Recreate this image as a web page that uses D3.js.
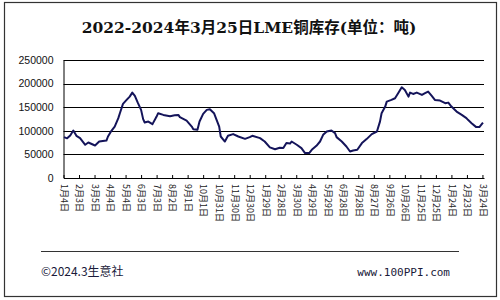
<!DOCTYPE html>
<html>
<head>
<meta charset="utf-8">
<script src="https://cdn.jsdelivr.net/npm/d3@7"></script>
<style>
  body { margin: 0; background: #fff; }
  svg { display: block; }
</style>
</head>
<body>
<svg id="chart"></svg>
<script>
// LME copper stocks, tonnes
const dates = [
  '2022-01-05', '2022-01-11', '2022-01-17', '2022-01-23', '2022-01-29', '2022-02-05', '2022-02-15', '2022-02-21',
  '2022-03-06', '2022-03-14', '2022-03-28', '2022-03-31', '2022-04-07', '2022-04-13', '2022-04-20', '2022-04-23',
  '2022-04-29', '2022-05-06', '2022-05-12', '2022-05-17', '2022-05-22', '2022-05-28', '2022-06-03', '2022-06-07',
  '2022-06-10', '2022-06-17', '2022-06-25', '2022-07-03', '2022-07-06', '2022-07-16', '2022-07-29', '2022-08-07',
  '2022-08-14', '2022-08-17', '2022-08-30', '2022-09-09', '2022-09-12', '2022-09-20', '2022-09-24', '2022-10-01',
  '2022-10-08', '2022-10-14', '2022-10-22', '2022-10-27', '2022-11-01', '2022-11-04', '2022-11-12', '2022-11-18',
  '2022-11-28', '2022-12-08', '2022-12-21', '2022-12-30', '2023-01-04', '2023-01-19', '2023-01-28', '2023-02-07',
  '2023-02-17', '2023-02-26', '2023-03-05', '2023-03-11', '2023-03-18', '2023-03-21', '2023-03-31', '2023-04-09',
  '2023-04-16', '2023-04-24', '2023-04-29', '2023-05-08', '2023-05-15', '2023-05-21', '2023-05-28', '2023-06-06',
  '2023-06-13', '2023-06-16', '2023-06-26', '2023-07-05', '2023-07-12', '2023-07-18', '2023-07-26', '2023-08-04',
  '2023-08-13', '2023-08-23', '2023-09-02', '2023-09-08', '2023-09-11', '2023-09-18', '2023-09-21', '2023-09-30',
  '2023-10-07', '2023-10-13', '2023-10-20', '2023-10-26', '2023-11-02', '2023-11-05', '2023-11-11', '2023-11-18',
  '2023-11-28', '2023-12-04', '2023-12-10', '2023-12-17', '2023-12-23', '2024-01-02', '2024-01-12', '2024-01-18',
  '2024-01-24', '2024-02-03', '2024-02-13', '2024-02-22', '2024-02-25', '2024-03-03', '2024-03-12', '2024-03-18',
  '2024-03-25'
];
const stocks = [
  86600, 84000, 90000, 100600, 89400, 84500, 70400, 75200,
  68900, 77300, 79400, 87900, 100600, 109000, 126800, 137300,
  157000, 165400, 172400, 180900, 173900, 158500, 144300, 124700,
  117500, 119600, 114100, 130200, 137300, 133700, 131000, 133000,
  133700, 128900, 121700, 109000, 103500, 102000, 119600, 135900,
  144300, 145800, 137300, 123200, 109000, 87900, 77300, 89400,
  93000, 87900, 83000, 86600, 89400, 84500, 77300, 65000,
  61000, 64000, 63400, 74000, 73000, 77300, 70400, 63400,
  52800, 52800, 59800, 68200, 77300, 91500, 98500, 100600,
  95100, 86600, 77300, 66800, 56200, 58300, 59800, 74000,
  82400, 93000, 98500, 120000, 137300, 151300, 161900, 165400,
  169000, 179600, 192300, 186600, 172400, 180900, 178100, 180900,
  176000, 179600, 183000, 173900, 165400, 164000, 158500, 159700,
  151300, 140700, 133700, 126800, 123200, 116200, 107800, 107800,
  117500
];
const yTicks = [0, 50000, 100000, 150000, 200000, 250000];
const firstTick = '2022-01-04'; // axis labels every 30 days from here
const tickCount = 28;
const titleText = '2022-2024年3月25日LME铜库存(单位：吨)';
const leftNote = '©2024.3生意社';
const rightNote = 'www.100PPI.com';

const width = 500;
const height = 300;
const margin = { top: 60, right: 16, bottom: 122, left: 63.5 };

const parse = d3.timeParse('%Y-%m-%d');
const data = dates.map((d, i) => ({ date: parse(d), value: stocks[i] }));
const tickDates = d3.range(tickCount).map((i) => d3.timeDay.offset(parse(firstTick), i * 30));

const svg = d3.select('#chart').attr('width', width).attr('height', height);

// outer frame
svg.append('rect')
  .attr('x', 4.5).attr('y', 2.5)
  .attr('width', 492).attr('height', 294)
  .attr('fill', 'none').attr('stroke', '#333').attr('stroke-width', 1.2);

svg.append('text')
  .attr('x', 249).attr('y', 33)
  .attr('text-anchor', 'middle')
  .attr('font-family', '"DejaVu Serif", "Noto Sans CJK SC", serif')
  .attr('font-weight', 'bold')
  .attr('font-size', 15.5)
  .attr('fill', '#111')
  .text(titleText);

const x = d3.scaleTime()
  .domain([parse('2022-01-04'), parse('2024-03-27')])
  .range([margin.left, width - margin.right]);
const y = d3.scaleLinear()
  .domain([0, 250000])
  .range([height - margin.bottom, margin.top]);

// horizontal grid
svg.append('g')
  .selectAll('line')
  .data(yTicks.filter((t) => t > 0))
  .join('line')
  .attr('x1', margin.left).attr('x2', width - margin.right)
  .attr('y1', (d) => Math.round(y(d)) + 0.5).attr('y2', (d) => Math.round(y(d)) + 0.5)
  .attr('stroke', '#000').attr('stroke-width', 1);

// y labels
const yAxis = svg.append('g')
  .attr('transform', `translate(${margin.left},0)`)
  .call(d3.axisLeft(y).tickValues(yTicks).tickSize(0).tickPadding(10).tickFormat(d3.format('d')));
yAxis.select('.domain').attr('stroke', '#000');
yAxis.selectAll('text')
  .attr('font-family', '"Liberation Sans", Arial, sans-serif')
  .attr('font-size', 10.5)
  .attr('fill', '#111');

// x axis
const xAxis = svg.append('g')
  .attr('transform', `translate(0,${height - margin.bottom})`)
  .call(d3.axisBottom(x).tickValues(tickDates).tickSizeInner(-3).tickSizeOuter(0)
    .tickFormat((d) => `${d.getMonth() + 1}月${d.getDate()}日`));
xAxis.select('.domain').attr('stroke', '#000');
xAxis.selectAll('.tick line').attr('stroke', '#000');
xAxis.selectAll('text')
  .attr('font-family', '"Noto Sans CJK SC", sans-serif')
  .attr('font-size', 9)
  .attr('fill', '#222')
  .attr('text-anchor', 'start')
  .attr('transform', 'rotate(90)')
  .attr('x', 6)
  .attr('y', 0)
  .attr('dy', '0.35em');

// the stock line
const line = d3.line()
  .x((d) => x(d.date))
  .y((d) => y(d.value));

svg.append('path')
  .datum(data)
  .attr('d', line)
  .attr('fill', 'none')
  .attr('stroke', '#14145a')
  .attr('stroke-width', 2)
  .attr('stroke-linejoin', 'round');

// footer
svg.append('line')
  .attr('x1', 41).attr('x2', 459)
  .attr('y1', 251.5).attr('y2', 251.5)
  .attr('stroke', '#333').attr('stroke-width', 1);

svg.append('text')
  .attr('x', 41).attr('y', 276)
  .attr('font-family', '"Noto Sans CJK SC", sans-serif')
  .attr('font-size', 12)
  .attr('fill', '#1a1a3a')
  .text(leftNote);

svg.append('text')
  .attr('x', 450).attr('y', 276)
  .attr('text-anchor', 'end')
  .attr('font-family', '"DejaVu Sans Mono", monospace')
  .attr('font-size', 11)
  .attr('fill', '#1a1a3a')
  .text(rightNote);
</script>
</body>
</html>
